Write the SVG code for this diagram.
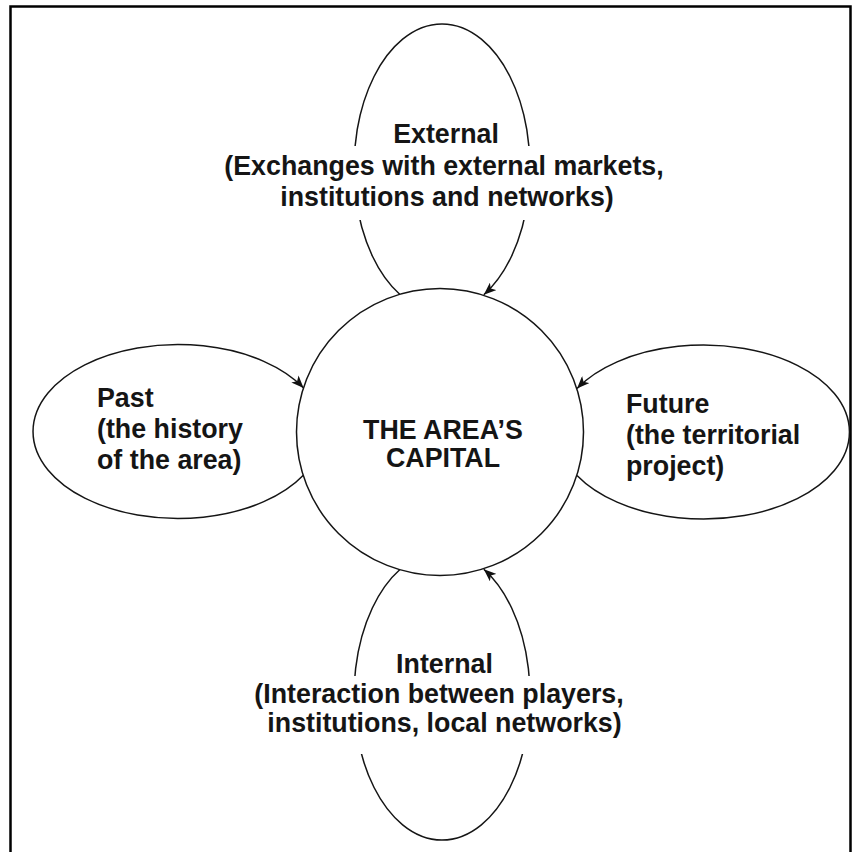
<svg xmlns="http://www.w3.org/2000/svg" width="857" height="852" viewBox="0 0 857 852">
  <defs>
    <marker id="arrow" viewBox="0 0 10 8" refX="10" refY="4" markerWidth="13" markerHeight="10" markerUnits="userSpaceOnUse" orient="auto">
      <path d="M0,0 L10,4 L0,8 L2.5,4 z" fill="#111"/>
    </marker>
    <style>
      .loop { fill: none; stroke: #151515; stroke-width: 1.5; }
      .lbl { font-family: "Liberation Sans", Arial, sans-serif; font-weight: bold; font-size: 26.8px; fill: #151515; }
      .mid { text-anchor: middle; }
      .gap { fill: #ffffff; stroke: none; }
    </style>
  </defs>
  <rect x="0" y="0" width="857" height="852" fill="#ffffff"/>
  <!-- frame -->
  <path d="M10.5,852 V6.5 H850.5 V852" fill="none" stroke="#000" stroke-width="2.5"/>

  <g id="connectors">
    <!-- External loop -->
    <path class="loop" d="M400.2,294.7 A88,144 0 1 1 483.8,294.7" marker-end="url(#arrow)"/>
    <!-- Internal loop -->
    <path class="loop" d="M400.2,569.3 A88,144 0 1 0 483.8,569.3" marker-end="url(#arrow)"/>
    <!-- Past loop -->
    <path class="loop" d="M303.6,475 A145,87 0 1 1 303.6,388" marker-end="url(#arrow)"/>
    <!-- Future loop -->
    <path class="loop" d="M577,475.5 A146,87 0 1 0 577,388.5" marker-end="url(#arrow)"/>
  </g>

  <g id="node-external">
    <rect class="gap" x="220" y="146" width="450" height="74"/>
    <text class="lbl mid" x="446" y="143">External</text>
    <text class="lbl mid" x="444" y="175">(Exchanges with external markets,</text>
    <text class="lbl mid" x="447" y="206">institutions and networks)</text>
  </g>

  <g id="node-internal">
    <rect class="gap" x="248" y="676" width="384" height="78"/>
    <text class="lbl mid" x="444.5" y="673">Internal</text>
    <text class="lbl mid" x="439" y="703">(Interaction between players,</text>
    <text class="lbl mid" x="444.5" y="732">institutions, local networks)</text>
  </g>

  <g id="node-past">
    <text class="lbl" x="97" y="407">Past</text>
    <text class="lbl" x="97" y="438">(the history</text>
    <text class="lbl" x="97" y="469">of the area)</text>
  </g>

  <g id="node-future">
    <text class="lbl" x="626" y="413">Future</text>
    <text class="lbl" x="626" y="444">(the territorial</text>
    <text class="lbl" x="626" y="475">project)</text>
  </g>

  <g id="node-center">
    <circle cx="440" cy="432" r="143.5" fill="#ffffff" stroke="#151515" stroke-width="1.5"/>
    <text class="lbl mid" x="443" y="439">THE AREA’S</text>
    <text class="lbl mid" x="443" y="467">CAPITAL</text>
  </g>
</svg>
